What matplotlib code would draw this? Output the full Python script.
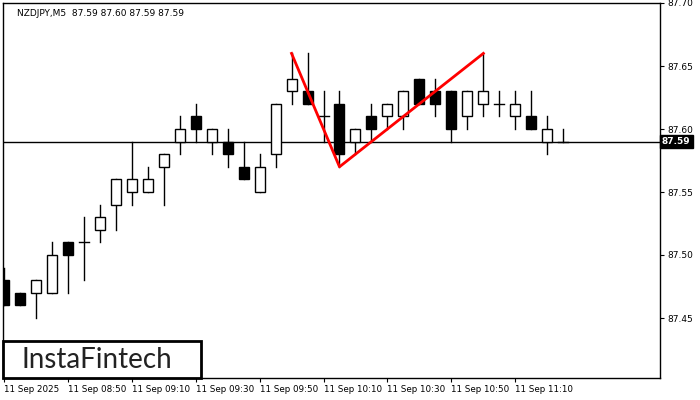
import matplotlib
matplotlib.use("Agg")
import matplotlib.pyplot as plt
from matplotlib.patches import Rectangle

opens  = [87.48,87.47,87.47,87.47,87.51,87.51,87.52,87.54,87.55,87.55,87.57,87.59,87.61,87.59,87.59,87.57,87.55,87.58,87.63,87.63,87.61,87.62,87.59,87.61,87.61,87.61,87.64,87.63,87.63,87.61,87.62,87.62,87.61,87.61,87.59,87.59]
highs  = [87.49,87.47,87.48,87.51,87.51,87.53,87.54,87.56,87.59,87.57,87.58,87.61,87.62,87.60,87.60,87.59,87.58,87.62,87.66,87.66,87.63,87.63,87.60,87.62,87.62,87.63,87.64,87.64,87.63,87.63,87.66,87.63,87.63,87.63,87.61,87.60]
lows   = [87.46,87.46,87.45,87.47,87.47,87.48,87.51,87.52,87.54,87.55,87.54,87.58,87.59,87.58,87.57,87.56,87.55,87.57,87.62,87.62,87.59,87.57,87.58,87.59,87.60,87.60,87.62,87.61,87.59,87.60,87.61,87.61,87.60,87.60,87.58,87.59]
closes = [87.46,87.46,87.48,87.50,87.50,87.51,87.53,87.56,87.56,87.56,87.58,87.60,87.60,87.60,87.58,87.56,87.57,87.62,87.64,87.62,87.61,87.58,87.60,87.60,87.62,87.63,87.62,87.62,87.60,87.63,87.63,87.62,87.62,87.60,87.60,87.59]
tick_labels = ["11 Sep 2025","11 Sep 08:50","11 Sep 09:10","11 Sep 09:30","11 Sep 09:50","11 Sep 10:10","11 Sep 10:30","11 Sep 10:50","11 Sep 11:10"]
pattern_idx = [18, 21, 30]
pattern_px = [87.66, 87.57, 87.66]
last_price = 87.59

fig = plt.figure(figsize=(7,4), dpi=100)
ax = fig.add_axes([3/700, 22/400, 657/700, 375/400])
w = 10/16
for i,(o,h,l,c) in enumerate(zip(opens,highs,lows,closes)):
    ax.plot([i,i],[l,h],color="black",lw=1,zorder=2)
    if abs(c-o) < 1e-9:
        ax.plot([i-w/2,i+w/2],[o,o],color="black",lw=1,zorder=3)
    else:
        fc = "white" if c > o else "black"
        ax.add_patch(Rectangle((i-w/2,min(o,c)),w,abs(c-o),facecolor=fc,edgecolor="black",lw=1,zorder=3))
ax.axhline(last_price,color="black",lw=1,zorder=1)
ax.plot(pattern_idx,pattern_px,color="#ff0000",lw=2,zorder=4)
ax.set_xlim(-0.05,41.05)
ax.set_ylim(87.70-375/1260,87.70)
ax.set_xticks(range(0,36,4))
ax.set_xticklabels(tick_labels,ha="left",fontsize=6.3)
yt=[87.45,87.50,87.55,87.60,87.65,87.70]
ax.set_yticks(yt)
ax.set_yticklabels([f"{v:.2f}" for v in yt],fontsize=6.5)
ax.yaxis.tick_right()
ax.tick_params(length=3,pad=2)
for s in ax.spines.values(): s.set_linewidth(1)
ax.text(1.003, last_price, f"{last_price:.2f}", transform=ax.get_yaxis_transform(),
        fontsize=6.5, color="white", va="center", ha="left", fontweight="bold",
        bbox=dict(facecolor="black",edgecolor="black",pad=1.5), clip_on=False)
ax.text(0.022,0.985,"NZDJPY,M5  87.59 87.60 87.59 87.59",transform=ax.transAxes,fontsize=6.5,va="top",ha="left")
fig.patches.append(Rectangle((3/700,22/400),198/700,37/400,transform=fig.transFigure,facecolor="white",edgecolor="black",lw=2,zorder=5))
fig.text(22/700,40.5/400,"InstaFintech",fontsize=20,va="center",ha="left",color="#222222",zorder=6,family="Lato")
fig.savefig("out.png",dpi=100)
